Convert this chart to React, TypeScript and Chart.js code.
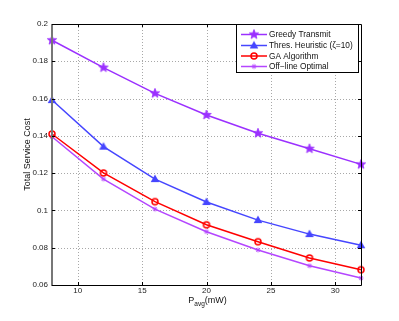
import React, { useEffect, useRef } from "react";
import { Chart, registerables } from "chart.js";

Chart.register(...registerables);

const xValues = [8, 12, 16, 20, 24, 28, 32];
const greedy = [0.1913, 0.1766, 0.1628, 0.1512, 0.1414, 0.1331, 0.1247];
const thres = [0.1592, 0.1342, 0.1168, 0.1045, 0.0948, 0.0873, 0.0813];
const ga = [0.141, 0.1201, 0.1047, 0.0923, 0.0832, 0.0745, 0.0682];
const offline = [0.1395, 0.1168, 0.1007, 0.0886, 0.0788, 0.0703, 0.0637];
const seriesNames = ["Greedy Transmit", "Thres. Heuristic (\u03B6=10)", "GA Algorithm", "Off\u2212line Optimal"];
const xTicks = [10, 15, 20, 25, 30];
const yTicks = [0.06, 0.08, 0.1, 0.12, 0.14, 0.16, 0.18, 0.2];
const yTickLabels = ["0.06", "0.08", "0.1", "0.12", "0.14", "0.16", "0.18", "0.2"];

const FONT = "'Liberation Sans', Arial, sans-serif";

function makeMarker(kind: string, color: string): HTMLCanvasElement {
  const c = document.createElement("canvas");
  c.width = 16;
  c.height = 16;
  const ctx = c.getContext("2d")!;
  const cx = 8, cy = 8;
  ctx.fillStyle = color;
  ctx.strokeStyle = color;
  if (kind === "star") {
    const R = 5, r = 2.1;
    ctx.beginPath();
    for (let i = 0; i < 10; i++) {
      const a = -Math.PI / 2 + (i * Math.PI) / 5;
      const rr = i % 2 === 0 ? R : r;
      const px = cx + rr * Math.cos(a), py = cy + rr * Math.sin(a);
      if (i === 0) ctx.moveTo(px, py); else ctx.lineTo(px, py);
    }
    ctx.closePath();
    ctx.fill();
    ctx.lineWidth = 0.8;
    ctx.stroke();
  } else if (kind === "triangle") {
    ctx.beginPath();
    ctx.moveTo(cx, cy - 4.6);
    ctx.lineTo(cx + 4.3, cy + 3);
    ctx.lineTo(cx - 4.3, cy + 3);
    ctx.closePath();
    ctx.fill();
  } else if (kind === "circle") {
    ctx.beginPath();
    ctx.arc(cx, cy, 3, 0, Math.PI * 2);
    ctx.lineWidth = 1.5;
    ctx.stroke();
  } else {
    ctx.lineWidth = 1;
    ctx.beginPath();
    const s = 2.4;
    ctx.moveTo(cx - s, cy); ctx.lineTo(cx + s, cy);
    ctx.moveTo(cx, cy - s); ctx.lineTo(cx, cy + s);
    ctx.moveTo(cx - 1.7, cy - 1.7); ctx.lineTo(cx + 1.7, cy + 1.7);
    ctx.moveTo(cx - 1.7, cy + 1.7); ctx.lineTo(cx + 1.7, cy - 1.7);
    ctx.stroke();
  }
  return c;
}

export default function App() {
  const ref = useRef<HTMLCanvasElement | null>(null);

  useEffect(() => {
    const colors = ["#9B30FF", "#4646FF", "#FF0000", "#B446FF"];
    const kinds = ["star", "triangle", "circle", "plus"];
    const markers = kinds.map((k, i) => makeMarker(k, colors[i]));
    const values = [greedy, thres, ga, offline];

    const decor = {
      id: "decor",
      beforeDatasetsDraw(chart: any) {
        const { ctx, chartArea: a, scales } = chart;
        ctx.save();
        ctx.strokeStyle = "#a8a8a8";
        ctx.lineWidth = 1;
        ctx.setLineDash([1, 2]);
        ctx.beginPath();
        xTicks.forEach((v) => {
          const x = Math.round(scales.x.getPixelForValue(v)) + 0.5;
          ctx.moveTo(x, a.top);
          ctx.lineTo(x, a.bottom);
        });
        yTicks.forEach((v) => {
          const y = Math.round(scales.y.getPixelForValue(v)) + 0.5;
          ctx.moveTo(a.left, y);
          ctx.lineTo(a.right, y);
        });
        ctx.stroke();
        ctx.restore();
      },
      afterDraw(chart: any) {
        const { ctx, chartArea: a, scales } = chart;
        ctx.save();
        // box
        ctx.strokeStyle = "#000";
        ctx.lineWidth = 1;
        ctx.beginPath();
        ctx.moveTo(a.left, a.top + 0.5);
        ctx.lineTo(a.right + 0.5, a.top + 0.5);
        ctx.lineTo(a.right + 0.5, a.bottom + 0.5);
        ctx.lineTo(a.left, a.bottom + 0.5);
        ctx.stroke();
        ctx.strokeStyle = "#777";
        ctx.lineWidth = 2;
        ctx.beginPath();
        ctx.moveTo(a.left, a.top);
        ctx.lineTo(a.left, a.bottom + 1);
        ctx.stroke();
        // inward ticks
        ctx.strokeStyle = "#000";
        ctx.lineWidth = 1;
        ctx.beginPath();
        xTicks.forEach((v) => {
          const x = Math.round(scales.x.getPixelForValue(v)) + 0.5;
          ctx.moveTo(x, a.bottom); ctx.lineTo(x, a.bottom - 3);
          ctx.moveTo(x, a.top); ctx.lineTo(x, a.top + 3);
        });
        yTicks.forEach((v) => {
          const y = Math.round(scales.y.getPixelForValue(v)) + 0.5;
          ctx.moveTo(a.left, y); ctx.lineTo(a.left + 3, y);
          ctx.moveTo(a.right, y); ctx.lineTo(a.right - 3, y);
        });
        ctx.stroke();
        // y title
        ctx.fillStyle = "#111";
        ctx.font = `9px ${FONT}`;
        ctx.textAlign = "center";
        ctx.textBaseline = "middle";
        ctx.save();
        ctx.translate(28, (a.top + a.bottom) / 2);
        ctx.rotate(-Math.PI / 2);
        ctx.fillText("Total Service Cost", 0, 0);
        ctx.restore();
        // x title with subscript
        ctx.textAlign = "left";
        ctx.textBaseline = "alphabetic";
        const main = `9px ${FONT}`, sub = `6.5px ${FONT}`;
        ctx.font = main;
        const wP = ctx.measureText("P").width;
        const wU = ctx.measureText("(mW)").width;
        ctx.font = sub;
        const wS = ctx.measureText("avg").width;
        const total = wP + wS + wU;
        let x0 = 207.5 - total / 2;
        const base = 303;
        ctx.font = main;
        ctx.fillText("P", x0, base);
        x0 += wP;
        ctx.font = sub;
        ctx.fillText("avg", x0, base + 3);
        x0 += wS;
        ctx.font = main;
        ctx.fillText("(mW)", x0, base - 0.5);
        // legend
        const L = 236, T = 24, R = 358, B = 72;
        ctx.fillStyle = "#fff";
        ctx.fillRect(L, T, R - L, B - T);
        ctx.strokeStyle = "#000";
        ctx.lineWidth = 1;
        ctx.strokeRect(L + 0.5, T + 0.5, R - L, B - T);
        const rows = [34.5, 45.5, 56, 66.5];
        ctx.font = `8.3px ${FONT}`;
        ctx.textBaseline = "middle";
        rows.forEach((ry, i) => {
          ctx.strokeStyle = colors[i];
          ctx.lineWidth = 1.5;
          ctx.beginPath();
          ctx.moveTo(241, ry);
          ctx.lineTo(267, ry);
          ctx.stroke();
          ctx.drawImage(markers[i], 254 - 8, ry - 8);
          ctx.fillStyle = "#111";
          ctx.fillText(seriesNames[i], 269, ry + 0.5);
        });
        ctx.restore();
      },
    };

    const chart = new Chart(ref.current!, {
      type: "line",
      data: {
        datasets: values.map((vals, i) => ({
          label: seriesNames[i],
          data: xValues.map((x, j) => ({ x, y: vals[j] })),
          borderColor: colors[i],
          backgroundColor: colors[i],
          borderWidth: 1.5,
          pointStyle: markers[i] as any,
          pointRadius: 5,
          tension: 0,
          clip: false as any,
        })),
      },
      options: {
        responsive: false,
        animation: false,
        layout: { padding: { top: 24, right: 38, left: 0, bottom: 0 } },
        plugins: { legend: { display: false }, tooltip: { enabled: false } },
        scales: {
          x: {
            type: "linear",
            min: 8,
            max: 32,
            afterBuildTicks: (s: any) => { s.ticks = xTicks.map((v) => ({ value: v })); },
            afterFit: (s: any) => { s.height = 36; },
            ticks: { color: "#222", font: { size: 8, family: FONT }, padding: 1, maxRotation: 0 },
            grid: { display: false, drawTicks: false },
            border: { display: false },
          },
          y: {
            type: "linear",
            min: 0.06,
            max: 0.2,
            afterBuildTicks: (s: any) => { s.ticks = yTicks.map((v) => ({ value: v })); },
            afterFit: (s: any) => { s.width = 52; },
            ticks: {
              color: "#222",
              font: { size: 8, family: FONT },
              padding: 4,
              callback: (v: any) => {
                const idx = yTicks.findIndex((t) => Math.abs(t - v) < 1e-9);
                return idx >= 0 ? yTickLabels[idx] : "";
              },
            },
            grid: { display: false, drawTicks: false },
            border: { display: false },
          },
        },
      } as any,
      plugins: [decor],
    });
    return () => chart.destroy();
  }, []);

  return (
    <div style={{ position: "fixed", left: 0, top: 0, width: 399, height: 321, background: "#fff" }}>
      <canvas ref={ref} width={399} height={321} />
    </div>
  );
}
